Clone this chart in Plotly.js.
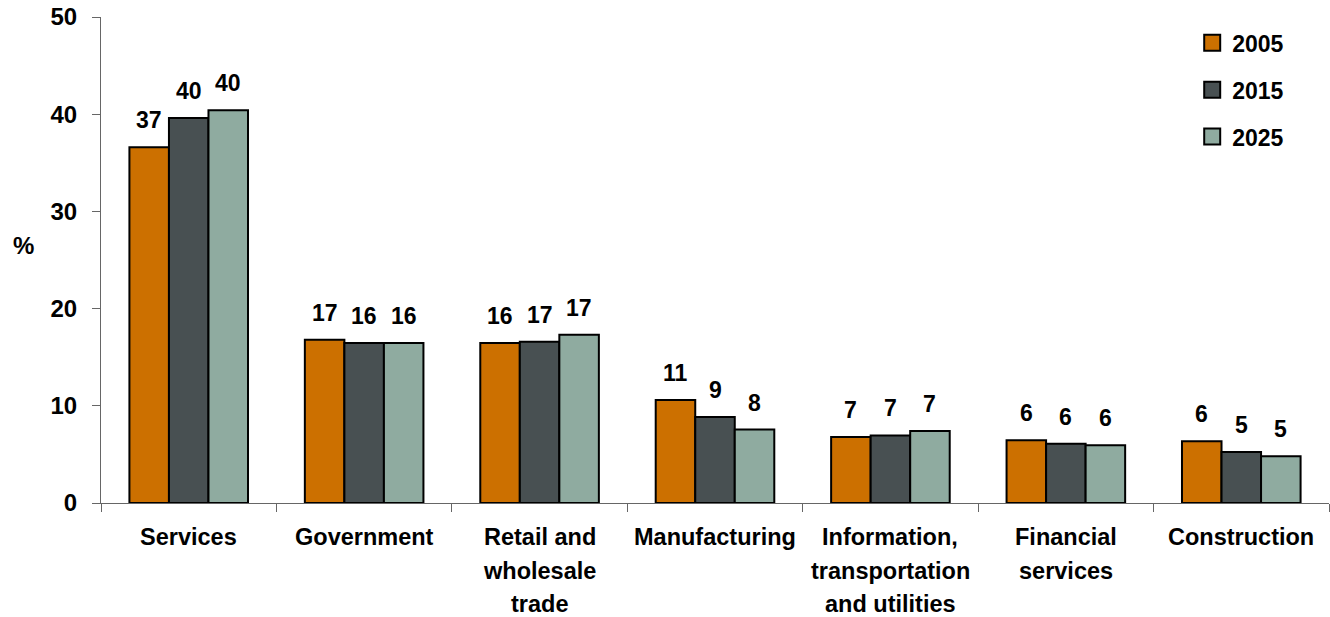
<!DOCTYPE html>
<html><head><meta charset="utf-8">
<script src="https://cdn.plot.ly/plotly-3.0.1.min.js"></script>
<style>html,body{margin:0;padding:0;background:#fff}#chart{width:1330px;height:617px}</style>
</head><body><div id="chart"></div>
<script>
const categories = ['Services','Government','Retail and wholesale trade','Manufacturing','Information, transportation and utilities','Financial services','Construction'];
const categoryLabelLines = [['Services'],['Government'],['Retail and','wholesale','trade'],['Manufacturing'],['Information,','transportation','and utilities'],['Financial','services'],['Construction']];
const years = ['2005','2015','2025'];
const share2005 = [36.6,16.8,16.45,10.6,6.8,6.45,6.35];
const share2015 = [39.6,16.45,16.6,8.85,6.95,6.1,5.25];
const share2025 = [40.4,16.45,17.3,7.55,7.4,5.95,4.8];
const yTicks = [0,10,20,30,40,50];
const yTitle = '%';

const series = [share2005, share2015, share2025];
const colors = ['#CC7000','#485052','#8FABA0'];
const FONT = 'Liberation Sans, Arial, sans-serif';
const BARGAP = 0.324;
const barW = (1 - BARGAP) / series.length;

const traces = [];
series.forEach((vals, j) => {
  traces.push({
    type: 'bar', x: categories, y: vals, name: years[j], showlegend: false,
    marker: {color: colors[j], line: {color: '#000', width: 2}},
    hoverinfo: 'x+y+name'
  });
});
series.forEach((vals, j) => {
  traces.push({
    type: 'scatter', mode: 'markers', x: [null], y: [null], name: years[j],
    legendgroup: years[j], showlegend: true,
    marker: {symbol: 'square', size: 20, color: colors[j], line: {color: '#000', width: 2}}
  });
});

const annotations = [];
series.forEach((vals, j) => {
  vals.forEach((v, i) => {
    annotations.push({
      xref: 'x', yref: 'y', x: i + (j - (series.length - 1) / 2) * barW, y: v,
      text: String(Math.round(v)), showarrow: false, yanchor: 'bottom', yshift: 12,
      font: {family: FONT, size: 23, color: '#000', weight: 'bold'}
    });
  });
});
categoryLabelLines.forEach((lines, i) => {
  lines.forEach((ln, k) => {
    annotations.push({
      xref: 'x', yref: 'paper', x: i, y: 0, text: ln, showarrow: false,
      yanchor: 'middle', yshift: -34.3 - 33.3 * k,
      font: {family: FONT, size: 23.5, color: '#000', weight: 'bold'}
    });
  });
});
annotations.push({
  xref: 'paper', yref: 'paper', x: (23.5 - 101) / 1229, y: (502.7 - 245.5) / 486,
  text: yTitle, showarrow: false, xanchor: 'center', yanchor: 'middle',
  font: {family: FONT, size: 24, color: '#000', weight: 'bold'}
});

const layout = {
  width: 1330, height: 617,
  margin: {l: 101, r: 1, t: 17, b: 114},
  paper_bgcolor: '#fff', plot_bgcolor: '#fff',
  barmode: 'group', bargap: BARGAP, bargroupgap: 0,
  font: {family: FONT, color: '#000'},
  xaxis: {
    type: 'category', showticklabels: false, showgrid: false, zeroline: false,
    showline: true, linecolor: '#666', linewidth: 1,
    ticks: 'outside', tickson: 'boundaries', ticklen: 8, tickcolor: '#666', tickwidth: 1,
    fixedrange: true
  },
  yaxis: {
    range: [0, 50], tickvals: yTicks, ticktext: yTicks.map(String),
    showgrid: false, zeroline: false, showline: true, linecolor: '#666', linewidth: 1,
    ticks: 'outside', ticklen: 8, tickcolor: '#666', tickwidth: 1, ticklabelstandoff: 10,
    tickfont: {family: FONT, size: 24, color: '#000', weight: 'bold'},
    fixedrange: true
  },
  legend: {
    x: 0.8886, y: 0.991, xanchor: 'left', yanchor: 'top',
    font: {family: FONT, size: 23, color: '#000', weight: 'bold'},
    traceorder: 'grouped', tracegroupgap: 14, bgcolor: 'rgba(0,0,0,0)'
  },
  annotations: annotations
};

Plotly.newPlot('chart', traces, layout, {displayModeBar: false, staticPlot: true});
</script></body></html>
